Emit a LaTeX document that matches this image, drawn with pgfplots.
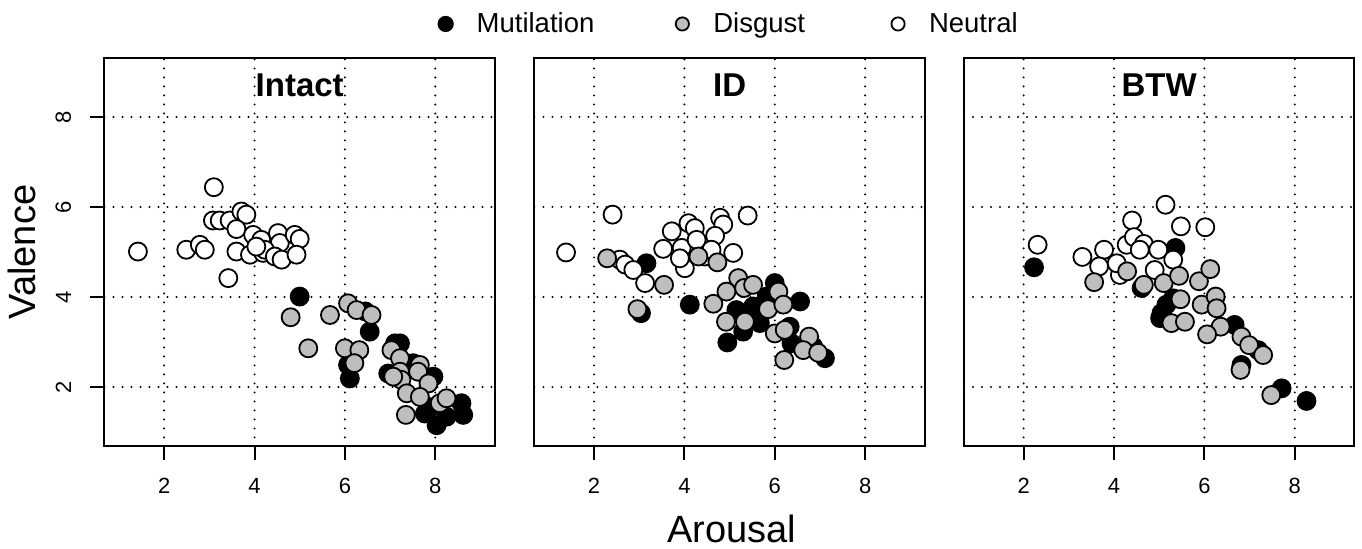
\documentclass[border=0pt]{standalone}
\usepackage{pgfplots}
\pgfplotsset{compat=1.18}
\usepackage{fontspec}
\setmainfont{Liberation Sans}
\definecolor{rgray}{HTML}{BEBEBE}

\pgfplotsset{
  panel/.style={
    width=195.2pt, height=194.4pt, scale only axis,
    xmin=0.68, xmax=9.32, ymin=0.68, ymax=9.32,
    xtick={2,4,6,8}, ytick={2,4,6,8},
    grid=major,
    major grid style={black, line width=1.1pt, dash pattern=on 0pt off 4.5pt, line cap=round},
    axis line style={line width=1pt},
    axis on top,
    tick align=outside, major tick length=7pt,
    every tick/.style={black, line width=1pt},
    xtick pos=bottom, ytick pos=left,
    tick label style={font=\fontsize{11}{13}\selectfont},
    /pgf/number format/assume math mode=true,
    xticklabel style={anchor=north, inner sep=0pt, yshift=-8.75pt},
    every axis title shift=0pt,
    title style={at={(0.5,0.8994)}, anchor=base, inner sep=0pt, font=\bfseries\fontsize{16.5}{20}\selectfont},
  },
  mut/.style={only marks, mark=*, mark size=4.5pt, mark options={draw=black, fill=black, line width=0.9pt}},
  dis/.style={only marks, mark=*, mark size=4.5pt, mark options={draw=black, fill=rgray, line width=0.9pt}},
  neu/.style={only marks, mark=*, mark size=4.5pt, mark options={draw=black, fill=white, line width=0.9pt}},
}

\begin{document}
\begin{tikzpicture}
\path[use as bounding box] (0,0) rectangle (681pt,274pt);

% ---------------- Intact ----------------
\begin{axis}[panel, at={(52.25pt,50.8pt)}, anchor=south west,
  title={Intact},
  yticklabel style={rotate=90, anchor=south, inner sep=0pt, yshift=9.5pt},
  ylabel={Valence},
  ylabel style={at={(axis description cs:-0.1755,0.5)}, anchor=base, inner sep=0pt, font=\fontsize{19}{22}\selectfont},
]
\addplot[mut] table {
x y
5.00 4.01
6.55 3.23
6.45 3.68
6.07 2.49
6.11 2.19
7.11 2.97
7.22 2.97
6.96 2.30
7.51 2.53
7.96 2.23
8.03 1.15
8.58 1.64
8.62 1.38
7.77 1.41
8.25 1.34
7.90 1.55
};
\addplot[neu] table {
x y
1.42 5.01
3.10 6.44
2.49 5.05
2.79 5.16
2.90 5.05
3.08 5.70
3.23 5.70
3.45 5.70
3.71 5.90
3.82 5.83
3.60 5.51
3.97 5.38
4.15 5.27
4.52 5.42
4.56 5.20
4.89 5.38
5.00 5.29
3.60 5.01
3.90 4.94
4.19 4.98
4.23 5.05
4.45 4.90
4.60 4.83
4.93 4.94
3.42 4.42
4.04 5.12
};
\addplot[dis] table {
x y
4.80 3.55
5.19 2.86
5.67 3.60
6.07 3.86
6.26 3.71
6.59 3.60
6.00 2.86
6.32 2.82
6.21 2.53
7.03 2.82
7.22 2.64
7.22 2.34
7.25 2.16
7.66 2.49
7.62 2.34
7.85 2.08
7.37 1.86
7.66 1.78
8.10 1.64
8.25 1.75
7.35 1.38
7.07 2.23
};
\end{axis}

% ---------------- ID ----------------
\begin{axis}[panel, at={(267.2pt,50.8pt)}, anchor=south west,
  title={ID},
  yticklabels={}, ytick style={draw=none},
  xlabel={Arousal},
  xlabel style={at={(axis description cs:0.505,-0.246)}, anchor=base, inner sep=0pt, font=\fontsize{19}{22}\selectfont},
  legend columns=3, legend cell align=left,
  legend image code/.code={\path[draw=none,fill=none] (-4.2pt,0pt) -- (15.5pt,0pt); \draw[#1] plot coordinates {(0pt,0pt)};},
  legend style={at={(axis description cs:-0.2488,1.0865)}, anchor=west, draw=none, fill=none,
    inner sep=0pt, outer sep=0pt, font=\fontsize{13.75}{16}\selectfont,
    nodes={inner sep=0pt},
    /tikz/column sep=0pt,
    /tikz/column 2/.style={column sep=39.8pt},
    /tikz/column 4/.style={column sep=42.3pt}},
]
\addlegendimage{only marks, mark=*, mark size=3.6pt, mark options={draw=black, fill=black, line width=0.9pt}}
\addlegendentry{Mutilation}
\addlegendimage{only marks, mark=*, mark size=3.3pt, mark options={draw=black, fill=rgray, line width=0.9pt}}
\addlegendentry{Disgust}
\addlegendimage{only marks, mark=*, mark size=3.3pt, mark options={draw=black, fill=white, line width=0.9pt}}
\addlegendentry{Neutral}
\addplot[mut, forget plot] table {
x y
3.16 4.75
3.04 3.64
4.12 3.83
4.95 2.99
6.00 4.31
6.56 3.90
7.11 2.64
5.67 3.42
5.30 3.23
6.33 3.34
5.52 3.79
5.15 3.71
5.82 4.01
6.37 2.97
6.85 2.90
};
\addplot[neu, forget plot] table {
x y
1.38 4.99
2.41 5.83
5.40 5.81
2.57 4.83
2.69 4.72
2.87 4.60
3.13 4.31
3.53 5.07
3.72 5.46
4.09 5.64
4.23 5.53
3.94 5.09
4.01 4.64
3.90 4.86
4.27 5.27
4.79 5.76
4.86 5.61
4.68 5.36
5.08 4.98
4.45 4.90
4.60 5.05
};
\addplot[dis, forget plot] table {
x y
2.29 4.86
3.55 4.27
2.96 3.73
4.31 4.90
4.73 4.77
4.64 3.85
4.92 3.45
5.19 4.42
5.32 4.20
5.52 4.27
4.93 4.12
5.34 3.45
5.85 3.73
6.08 4.12
6.19 3.83
6.00 3.19
6.22 3.27
6.76 3.12
6.63 2.82
6.96 2.76
6.21 2.60
};
\end{axis}

% ---------------- BTW ----------------
\begin{axis}[panel, at={(482pt,50.8pt)}, anchor=south west,
  title={BTW},
  yticklabels={}, ytick style={draw=none},
]
\addplot[mut] table {
x y
2.23 4.66
5.36 5.09
4.61 4.20
5.05 3.64
5.16 3.83
6.67 3.38
7.19 2.82
6.82 2.49
7.71 1.97
8.26 1.69
5.31 3.97
5.02 3.53
};
\addplot[neu] table {
x y
2.31 5.16
5.14 6.05
4.40 5.70
5.48 5.57
6.02 5.55
3.30 4.89
3.78 5.05
3.67 4.68
4.13 4.49
4.28 5.16
4.44 5.33
4.66 5.18
4.98 5.05
4.57 5.05
4.90 4.60
5.31 4.83
4.06 4.75
};
\addplot[dis] table {
x y
3.56 4.33
4.29 4.57
4.66 4.27
5.10 4.31
5.44 4.47
5.88 4.35
6.13 4.62
5.47 3.95
5.94 3.83
6.25 4.01
6.27 3.75
5.27 3.42
5.57 3.45
6.36 3.34
6.06 3.17
6.82 3.12
6.99 2.93
7.30 2.71
6.80 2.38
7.48 1.82
};
\end{axis}
\end{tikzpicture}
\end{document}
